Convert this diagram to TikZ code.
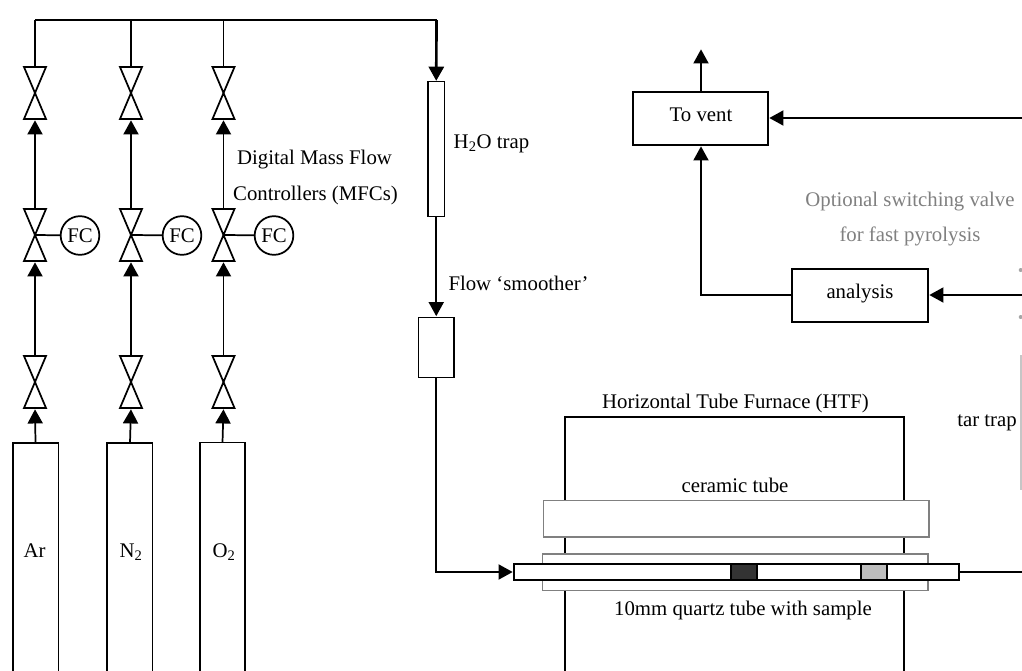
\documentclass[tikz,border=0pt]{standalone}
\usepackage{fontspec}
\setmainfont{Liberation Serif}
\usetikzlibrary{arrows.meta}
\definecolor{furngray}{HTML}{808080}
\definecolor{samplegray}{HTML}{BDBDBD}
\definecolor{sampledark}{HTML}{333333}
\tikzset{
  x=0.75pt,y=-0.75pt,
  every node/.style={font=\fontsize{15.6pt}{18pt}\selectfont,inner sep=0pt,outer sep=0pt},
  ln/.style={line width=1.3pt,black},
  arr/.style={ln,-{Triangle[length=10.6pt,width=11.3pt]},shorten >=1pt},
  thickarr/.style={line width=2pt,black,-{Triangle[length=10.6pt,width=11.3pt]},shorten >=0.5pt},
  box/.style={draw=black,line width=1.3pt,fill=white,rectangle},
  valve/.style={rectangle,minimum width=16.5pt,minimum height=39pt},
  fc/.style={circle,draw=black,line width=1.3pt,fill=white,minimum size=29pt},
  graybox/.style={draw=furngray,line width=1.4pt,fill=white},
  lab/.style={anchor=base},
}
\newcommand{\myvalve}[3]{%
  \node[valve] (#1) at (#2,#3) {};
  \draw[ln,line join=miter] (#1.north west)--(#1.south east)--(#1.south west)--(#1.north east)--cycle;
}
\newcommand{\myrect}[6]{% name x1 y1 x2 y2 style
  \node[#6,rectangle,anchor=north west,minimum width=(#4-#2)*0.75pt,minimum height=(#5-#3)*0.75pt] (#1) at (#2,#3) {};
}
\begin{document}
\begin{tikzpicture}
\useasboundingbox (0,0) rectangle (1022,671);
% cylinders (open at the bottom)
\coordinate (arBL) at (13,671); \coordinate (arTL) at (13,443); \coordinate (arTR) at (58.5,443); \coordinate (arBR) at (58.5,671);
\coordinate (nBL) at (107,671); \coordinate (nTL) at (107,443); \coordinate (nTR) at (152.5,443); \coordinate (nBR) at (152.5,671);
\coordinate (oBL) at (200,671); \coordinate (oTL) at (200,442.5); \coordinate (oTR) at (245,442.5); \coordinate (oBR) at (245,671);
\draw[ln] (arBL)--(arTL)--(arTR)--(arBR);
\draw[ln] (nBL)--(nTL)--(nTR)--(nBR);
\draw[ln] (oBL)--(oTL)--(oTR)--(oBR);
\node[lab] (ar) at (34.5,557) {Ar};
\node[lab] (n2) at (131,557) {N\textsubscript{2}};
\node[lab] (o2) at (224,557) {O\textsubscript{2}};
% valves
\myvalve{a1}{35}{93}\myvalve{a2}{35}{235}\myvalve{a3}{35}{382}
\myvalve{b1}{131}{93}\myvalve{b2}{131}{235}\myvalve{b3}{131}{382}
\myvalve{c1}{223.5}{93}\myvalve{c2}{223.5}{235}\myvalve{c3}{223.5}{382}
% FC
\node[fc] (fa) at (80,235.5) {FC};
\node[fc] (fb) at (182,235.5) {FC};
\node[fc] (fc1) at (274,235.5) {FC};
\draw[ln] (a2.center)--(fa); \draw[ln] (b2.center)--(fb); \draw[ln] (c2.center)--(fc1);
% flow lines
\coordinate (aT) at (35,20); \coordinate (bT) at (131,20); \coordinate (cT) at (223.5,20); \coordinate (tT) at (436.5,20);
\coordinate (arTop) at (35.5,443); \coordinate (nTop) at (130,443); \coordinate (oTop) at (222.5,442.5);
\draw[arr] (arTop)--(a3.south); \draw[arr] (nTop)--(b3.south); \draw[arr] (oTop)--(c3.south);
\draw[arr] (a3.north)--(a2.south); \draw[arr] (b3.north)--(b2.south); \draw[arr] (c3.north)--(c2.south);
\draw[arr] (a2.north)--(a1.south); \draw[arr] (b2.north)--(b1.south); \draw[arr] (c2.north)--(c1.south);
\draw[ln] (a1.north)--(aT); \draw[ln] (b1.north)--(bT); \draw[ln] (c1.north)--(cT);
% traps
\myrect{trap}{428}{81.5}{444.5}{216.5}{box}
\myrect{smooth}{418.5}{317.5}{454}{377.5}{box}
\draw[ln] (aT)--(tT);
\draw[thickarr] (tT)--(trap.north);
\draw[arr] (trap.south)--(smooth.north);
% furnace
\coordinate (fBL) at (565,671); \coordinate (fTL) at (565,417); \coordinate (fTR) at (904,417); \coordinate (fBR) at (904,671);
\draw[ln] (fBL)--(fTL)--(fTR)--(fBR);
\myrect{ceramic}{543.5}{500.5}{929}{537}{graybox}
\myrect{outer}{542.5}{554}{928}{590.5}{graybox}
\myrect{quartz}{514}{564}{959}{580}{box}
\myrect{dark}{731}{564}{757}{580}{draw=black,line width=1.3pt,fill=sampledark}
\myrect{light}{861}{564}{887}{580}{draw=black,line width=1.3pt,fill=samplegray}
\coordinate (junc) at (smooth.south|-quartz.west);
\draw[arr] (smooth.south)--(junc)--(quartz.west);
\coordinate (rX) at (1022,0);
\draw[ln] (quartz.east)--(quartz.east-|rX);
% right side
\myrect{vent}{633}{92}{768}{145}{box}
\myrect{ana}{792}{269}{928}{322}{box}
\coordinate (ventOut) at (701,48);
\coordinate (rV) at (1022,118);
\coordinate (rA) at (1022,295);
\coordinate (aL) at (701,295);
\draw[arr] (vent.north-|ventOut)--(ventOut);
\draw[arr] (rV)--(vent.east|-rV);
\draw[arr] (rA)--(ana.east|-rA);
\draw[arr] (ana.west|-rA)--(aL)--(aL|-vent.south);
\coordinate (ttT) at (1021,355); \coordinate (ttB) at (1021,490);
\draw[gray!45,line width=0.9pt] (ttT)--(ttB);
\fill[gray!70] (1020.7,270) circle (1.5pt);
\fill[gray!70] (1020.7,317) circle (1.5pt);
% labels
\node[lab] (l1) at (314.5,164) {Digital Mass Flow};
\node[lab] (l2) at (315.5,200) {Controllers (MFCs)};
\node[lab] (l3) at (491.5,148) {H\textsubscript{2}O trap};
\node[lab] (l4) at (518.5,290) {Flow ‘smoother’};
\node[lab] (l5) at (701,121) {To vent};
\node[lab,text=furngray] (l6) at (910,206) {Optional switching valve};
\node[lab,text=furngray] (l7) at (910,241) {for fast pyrolysis};
\node[lab] (l8) at (860,298) {analysis};
\node[lab] (l9) at (735.5,408) {Horizontal Tube Furnace (HTF)};
\node[lab] (l10) at (987,426) {tar trap};
\node[lab] (l11) at (735,492) {ceramic tube};
\node[lab] (l12) at (743,615) {10mm quartz tube with sample};
\end{tikzpicture}
\end{document}
